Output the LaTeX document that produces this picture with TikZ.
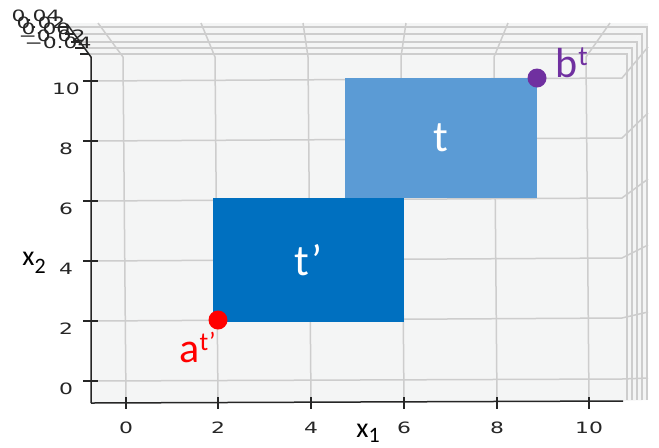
\documentclass[tikz,border=0pt]{standalone}
\usepackage{fontspec}
\setmainfont{Carlito}
\newfontfamily\tickfont{DejaVu Sans}
\usetikzlibrary{positioning}
\definecolor{PaneGray}{HTML}{F4F5F5}
\definecolor{GridGray}{HTML}{CDCDCD}
\definecolor{AxisDark}{HTML}{262626}
\definecolor{BoxLight}{HTML}{5B9BD5}
\definecolor{BoxDark}{HTML}{0070C0}
\definecolor{PointRed}{HTML}{FF0000}
\definecolor{PointPurple}{HTML}{7030A0}

\begin{document}
\begin{tikzpicture}[
  x=0.5pt, y=-0.5pt,
  pane/.style={fill=PaneGray},
  gridline/.style={draw=GridGray, line width=0.75pt},
  axisline/.style={draw=AxisDark, line width=0.75pt},
  ticklbl/.style={font=\tickfont\fontsize{7.8}{8}\selectfont, text=AxisDark, xscale=1.4, inner sep=0pt},
  axislbl/.style={font=\fontsize{14}{14}\selectfont, inner sep=0pt, anchor=base west},
  box/.style={inner sep=0pt, text=white, font=\fontsize{22}{22}\selectfont},
  ptlbl/.style={font=\fontsize{21}{21}\selectfont, inner sep=0pt, anchor=base west},
  dot/.style={circle, inner sep=0pt, minimum size=9.5pt}
]
\useasboundingbox (0,0) rectangle (659,447);
% panes
\fill[pane] (91,57) -- (622,57) -- (622,401) -- (91,403) -- cycle;
\fill[pane] (67,23) -- (648,23) -- (622,57) -- (91,57) -- cycle;
\fill[pane] (648,23) -- (648,400) -- (622,401) -- (622,57) -- cycle;
% grid on floor and walls
\foreach \xb/\xt in {126/98, 218/201, 311/303, 404/406, 497/508, 589/610}
  \draw[gridline] (\xb,402) -- (\xb-3,57) -- (\xt,23);
\foreach \yl/\yr/\ye in {381/379/378, 321/318/312, 261/258/245, 201/198/179, 141/138/113, 81/78/47}
  \draw[gridline] (91,\yl) -- (622,\yr) -- (648,\ye);
\foreach \zy/\zl/\zr in {27/69/647, 34/74/642, 42/80/637, 48/84/632, 54/89/627}
  \draw[gridline] (\zl,\zy) -- (\zr,\zy) -- (\zr,400);

% boxes
\node[box, fill=BoxLight, minimum width=96pt, minimum height=60pt] (t) at (441,138) {t};
\node[box, fill=BoxDark, minimum width=95.5pt, minimum height=62pt] (tp) at (308.5,260) {t’};

% axes
\draw[axisline] (91,403) -- (623,401);
\draw[axisline] (91,403) -- (91,57) -- (67,24);
\foreach \xv/\xb in {0/126, 2/218, 4/311, 6/404, 8/497, 10/589} {
  \draw[axisline] (\xb,397) -- (\xb,409);
  \node[ticklbl] (xt\xv) at (\xb,428) {\xv};
}
\foreach \yv/\yl in {0/381, 2/321, 4/261, 6/201, 8/141, 10/81} {
  \draw[axisline] (83,\yl) -- (98,\yl);
  \node[ticklbl] (yt\yv) at (66,\yl+8) {\yv};
}
\foreach \zy/\zl in {27/69, 34/74, 42/80, 48/84, 54/89}
  \draw[axisline] (\zl-9,\zy) -- (\zl,\zy);
\node[ticklbl] (zt1) at (36,16) {0.04};
\node[ticklbl] (zt2) at (41,23) {0.02};
\node[ticklbl] (zt3) at (46,29) {0.00};
\node[ticklbl] (zt4) at (52,36) {−0.02};
\node[ticklbl] (zt5) at (58,43) {−0.04};

\node[axislbl] (lblx1) at (356,437) {x\raisebox{-2.5pt}{\fontsize{11}{11}\selectfont 1}};
\node[axislbl] (lblx2) at (22,265) {x\raisebox{-4pt}{\fontsize{11}{11}\selectfont 2}};

% corner points
\node[dot, fill=PointRed] (ptA) at (218,320) {};
\node[dot, fill=PointPurple] (ptB) at (537,78) {};
\node[ptlbl, text=PointRed] (lblA) at (179,362) {a\raisebox{6pt}{\fontsize{13}{13}\selectfont t’}};
\node[ptlbl, text=PointPurple] (lblB) at (555,77) {b\hspace{0.5pt}\raisebox{6pt}{\fontsize{14}{14}\selectfont t}};
\end{tikzpicture}
\end{document}
